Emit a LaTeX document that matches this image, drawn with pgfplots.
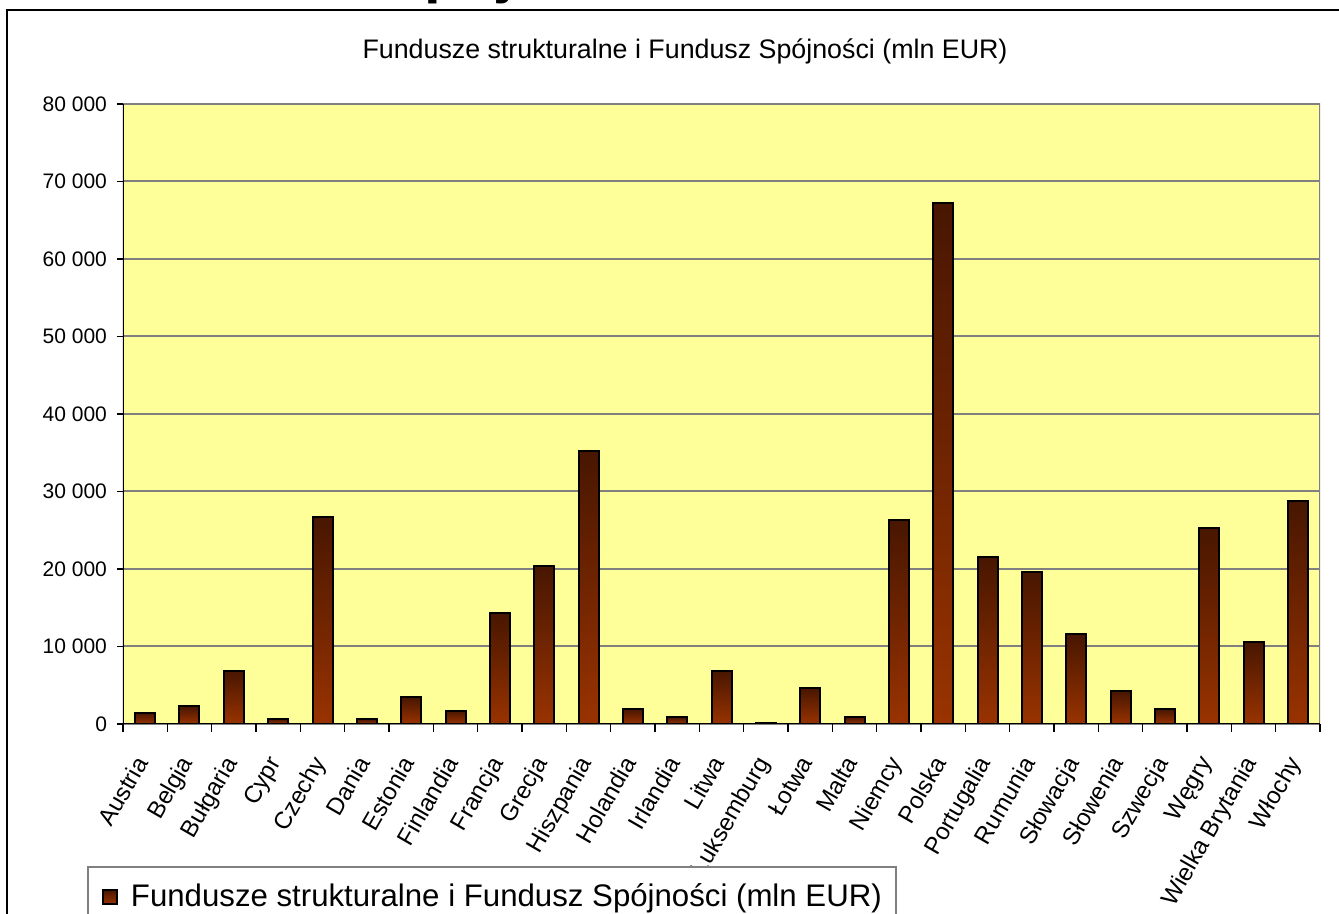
\documentclass[border=0pt]{standalone}
\usepackage{pgfplots}
\pgfplotsset{compat=1.18}
\usepackage{fontspec}
\setmainfont{Liberation Sans}

\definecolor{plotbg}{RGB}{255,255,153}
\definecolor{gridc}{RGB}{128,128,128}
\definecolor{bartop}{RGB}{72,22,0}
\definecolor{barbot}{RGB}{153,51,0}

\pgfplotsset{
  barsty/.style={ybar, bar width=10pt, bar shift=0pt, draw=black,
    line width=1pt, top color=bartop, bottom color=barbot, forget plot},
}
% kazdy slupek osobno, zeby gradient liczyl sie dla kazdego slupka
\newcommand{\slupek}[2]{\addplot[barsty] coordinates {(#1,#2)};}

\begin{document}
\begin{tikzpicture}
  \clip (0,0) rectangle (669.5pt,457pt);
  \fill[white] (0,0) rectangle (669.5pt,457pt);
  % resztka naglowka slajdu, ucieta u gory
  \node[anchor=base west, inner sep=0pt, font=\bfseries\fontsize{30}{36}\selectfont]
    at (212pt,461pt) {pój};
  % ramka wykresu
  \draw[black, line width=1pt] (3.5pt,-5pt) -- (3.5pt,452pt) -- (680pt,452pt);
  % tytul wykresu
  \node[font=\fontsize{13.4}{16}\selectfont] at (342.5pt,431.5pt)
    {Fundusze strukturalne i Fundusz Spójności (mln EUR)};

  \begin{axis}[
    at={(61.5pt,95pt)}, anchor=south west,
    scale only axis,
    width=598.5pt, height=310pt,
    xmin=-0.5, xmax=26.5,
    ymin=0, ymax=80000,
    scaled y ticks=false,
    axis background/.style={fill=plotbg},
    axis line style={draw=none},
    ytick={0,10000,...,80000},
    yticklabels={0,10 000,20 000,30 000,40 000,50 000,60 000,70 000,80 000},
    yticklabel style={font=\fontsize{10.5}{12}\selectfont, xshift=-1.5pt},
    ymajorgrids,
    y grid style={gridc, line width=1pt},
    xtick={0,...,26},
    xticklabels={Austria,Belgia,Bułgaria,Cypr,Czechy,Dania,Estonia,Finlandia,
      Francja,Grecja,Hiszpania,Holandia,Irlandia,Litwa,Luksemburg,Łotwa,Malta,
      Niemcy,Polska,Portugalia,Rumunia,Słowacja,Słowenia,Szwecja,Węgry,
      Wielka Brytania,Włochy},
    xticklabel style={font=\fontsize{12}{14}\selectfont,
      xshift=-6pt, yshift=-10.5pt, rotate=60,
      anchor=north east, inner sep=1pt},
    major x tick style={draw=none},
    minor xtick={-0.5,0.5,...,26.5},
    tick align=outside,
    tick pos=left,
    major tick length=3pt,
    minor tick length=4pt,
    tick style={black, line width=0.6pt},
    legend style={
      at={(-0.0301,-0.229)}, anchor=north west,
      draw=gridc, line width=1pt, fill=white,
      font=\fontsize{15.6}{18}\selectfont,
      inner xsep=7pt, inner ysep=8.5pt,
      nodes={inner sep=0pt, outer sep=0pt},
      /tikz/every odd column/.append style={column sep=6.5pt},
    },
    legend cell align=left,
  ]
  \slupek{0}{1461}
  \slupek{1}{2258}
  \slupek{2}{6853}
  \slupek{3}{640}
  \slupek{4}{26690}
  \slupek{5}{613}
  \slupek{6}{3456}
  \slupek{7}{1716}
  \slupek{8}{14319}
  \slupek{9}{20420}
  \slupek{10}{35217}
  \slupek{11}{1907}
  \slupek{12}{901}
  \slupek{13}{6885}
  \slupek{14}{65}
  \slupek{15}{4620}
  \slupek{16}{855}
  \slupek{17}{26340}
  \slupek{18}{67284}
  \slupek{19}{21511}
  \slupek{20}{19668}
  \slupek{21}{11588}
  \slupek{22}{4205}
  \slupek{23}{1891}
  \slupek{24}{25307}
  \slupek{25}{10613}
  \slupek{26}{28812}
  \addlegendimage{legend image code/.code={
      \draw[black, line width=0.8pt, top color=bartop, bottom color=barbot]
        (0pt,-3.6pt) rectangle (7.2pt,3.6pt);
    }}
  \addlegendentry{Fundusze strukturalne i Fundusz Spójności (mln EUR)}

  % osie: lewa i dolna ciemne, gorna i prawa szare
  \draw[gridc, line width=1pt] (rel axis cs:0,1) -- (rel axis cs:1,1) -- (rel axis cs:1,0);
  \draw[black, line width=0.8pt] (rel axis cs:0,1) -- (rel axis cs:0,0) -- (rel axis cs:1,0);
  \end{axis}
\end{tikzpicture}
\end{document}
